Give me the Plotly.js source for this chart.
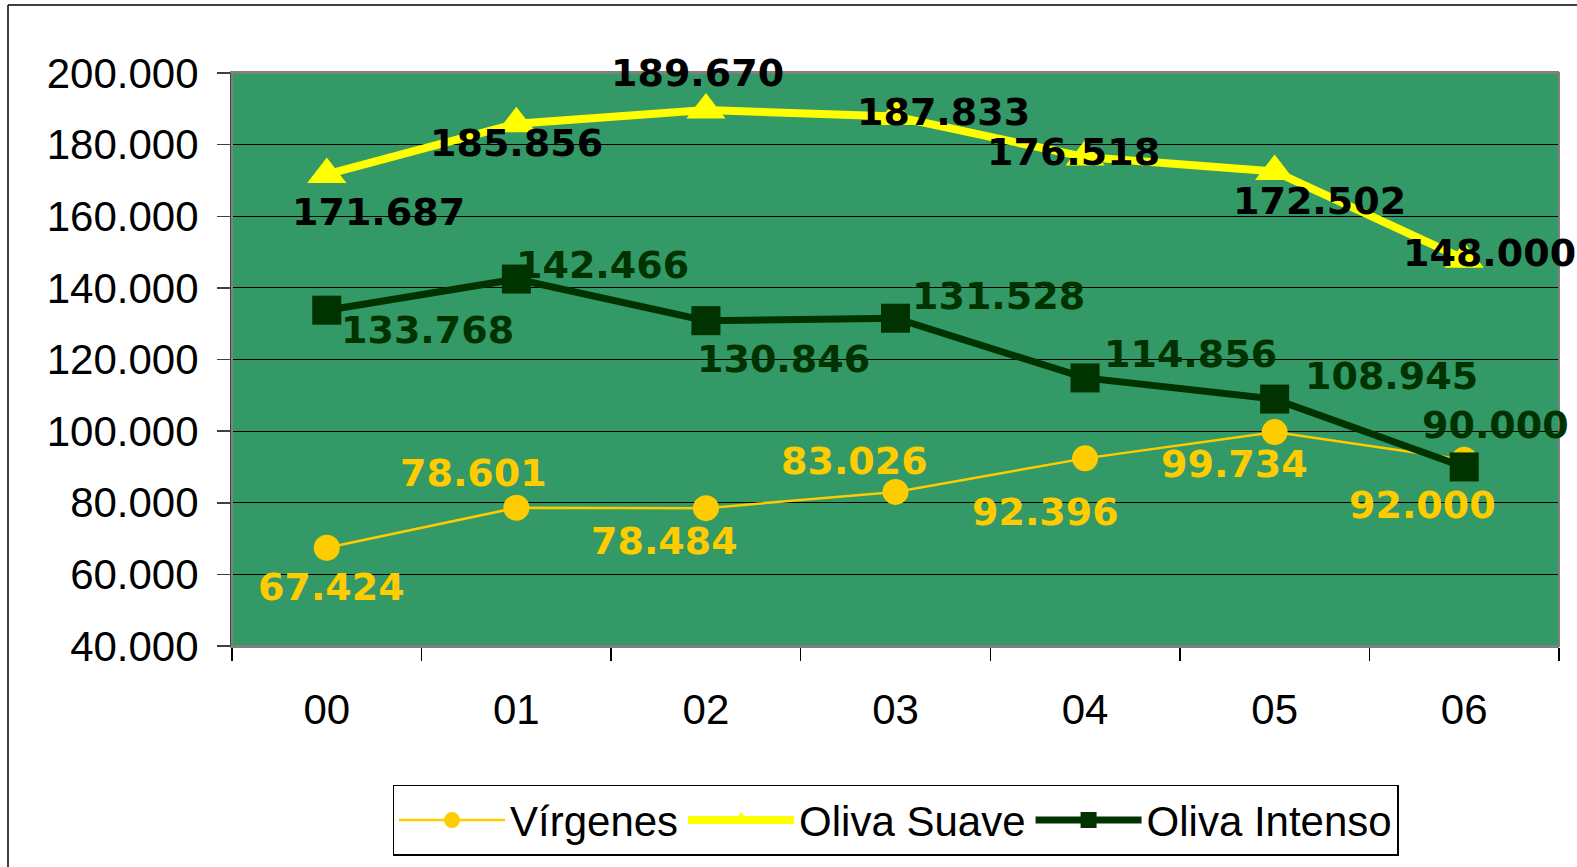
<!DOCTYPE html>
<html>
<head>
<meta charset="utf-8">
<script src="https://cdn.plot.ly/plotly-3.0.1.min.js"></script>
<style>html,body{margin:0;padding:0;background:#fff;}#chart{width:1577px;height:867px;}</style>
</head>
<body>
<div id="chart"></div>
<script>
// ---- data ----
const categories = ["00", "01", "02", "03", "04", "05", "06"];
const virgenes = [67424, 78601, 78484, 83026, 92396, 99734, 92000];
const olivaSuave = [171687, 185856, 189670, 187833, 176518, 172502, 148000];
const olivaIntenso = [133768, 142466, 130846, 131528, 114856, 108945, 90000];
const seriesNames = ["Vírgenes", "Oliva Suave", "Oliva Intenso"];
const yTickVals = [40000, 60000, 80000, 100000, 120000, 140000, 160000, 180000, 200000];
const yTickText = ["40.000", "60.000", "80.000", "100.000", "120.000", "140.000", "160.000", "180.000", "200.000"];

// label offsets in pixels (dx right, dy down) for each series
const offV = [[5, 39], [-43, -35], [-41, 33], [-41, -31], [-40, 54], [-40, 32], [-42, 45]];
const offS = [[52, 38], [0, 19], [-8, -37], [48, -5], [-12, -5], [45, 30], [25, -6]];
const offI = [[101, 20], [86, -14], [78, 38], [103, -22], [105, -24], [117, -23], [31, -42]];

function fmt(v) {
  return String(v).replace(/\B(?=(\d{3})+(?!\d))/g, ".");
}

const cV = "#FFCC00", cS = "#FFFF00", cI = "#003300";

const traces = [
  {x: categories, y: virgenes, name: seriesNames[0], type: "scatter", mode: "lines+markers",
   line: {color: cV, width: 2.5}, marker: {symbol: "circle", size: 26, color: cV}},
  {x: categories, y: olivaSuave, name: seriesNames[1], type: "scatter", mode: "lines+markers",
   line: {color: cS, width: 8}, marker: {symbol: "triangle-up", size: 34, color: cS}},
  {x: categories, y: olivaIntenso, name: seriesNames[2], type: "scatter", mode: "lines+markers",
   line: {color: cI, width: 7}, marker: {symbol: "square", size: 29, color: cI}}
];

const labelFont = {family: "DejaVu Sans, sans-serif", size: 38, weight: "bold"};
const annotations = [];
function addLabels(vals, offs, color) {
  vals.forEach((v, i) => {
    annotations.push({
      x: categories[i], y: v, xref: "x", yref: "y",
      text: "<b>" + fmt(v) + "</b>", showarrow: false,
      xshift: offs[i][0], yshift: -offs[i][1],
      font: Object.assign({}, labelFont, {color: color})
    });
  });
}
addLabels(virgenes, offV, cV);
addLabels(olivaSuave, offS, "#000000");
addLabels(olivaIntenso, offI, cI);

const tickFont = {family: "Liberation Sans, Arial, sans-serif", size: 42, color: "#000"};

const layout = {
  width: 1577, height: 867,
  margin: {l: 232, r: 18, t: 73, b: 220},
  paper_bgcolor: "#ffffff",
  plot_bgcolor: "#339966",
  showlegend: true,
  legend: {
    orientation: "h", x: 0.5, xanchor: "center", y: -0.24, yanchor: "top",
    bgcolor: "#ffffff", bordercolor: "#000000", borderwidth: 1.5,
    font: {family: "Liberation Sans, Arial, sans-serif", size: 42, color: "#000"},
    itemwidth: 106, tracegroupgap: 0
  },
  xaxis: {
    type: "category", tickson: "boundaries", ticks: "outside", ticklen: 13, tickwidth: 1.5,
    tickcolor: "#000", showgrid: false, showline: true, linecolor: "#808080", linewidth: 2,
    mirror: true, tickfont: tickFont, ticklabelstandoff: 26, range: [-0.5, 6.5], fixedrange: true
  },
  yaxis: {
    range: [40000, 200000], tickvals: yTickVals, ticktext: yTickText,
    ticks: "outside", ticklen: 13, tickwidth: 1.5, tickcolor: "#404040",
    showgrid: true, gridcolor: "#000000", gridwidth: 1,
    showline: true, linecolor: "#404040", linewidth: 2, mirror: false,
    zeroline: false, tickfont: tickFont, ticklabelstandoff: 10, fixedrange: true
  },
  annotations: annotations,
  shapes: [
    {type: "rect", xref: "paper", yref: "paper", x0: 0, x1: 1, y0: 0, y1: 1,
     line: {color: "#808080", width: 2}, layer: "above"},
    {type: "line", xref: "paper", yref: "paper", x0: -0.1688, x1: -0.1688, y0: -0.40, y1: 1.1185,
     line: {color: "#000000", width: 1.5}},
    {type: "line", xref: "paper", yref: "paper", x0: -0.1688, x1: 1.02, y0: 1.1185, y1: 1.1185,
     line: {color: "#000000", width: 1.5}}
  ]
};

Plotly.newPlot("chart", traces, layout, {displayModeBar: false, staticPlot: true});
</script>
</body>
</html>
